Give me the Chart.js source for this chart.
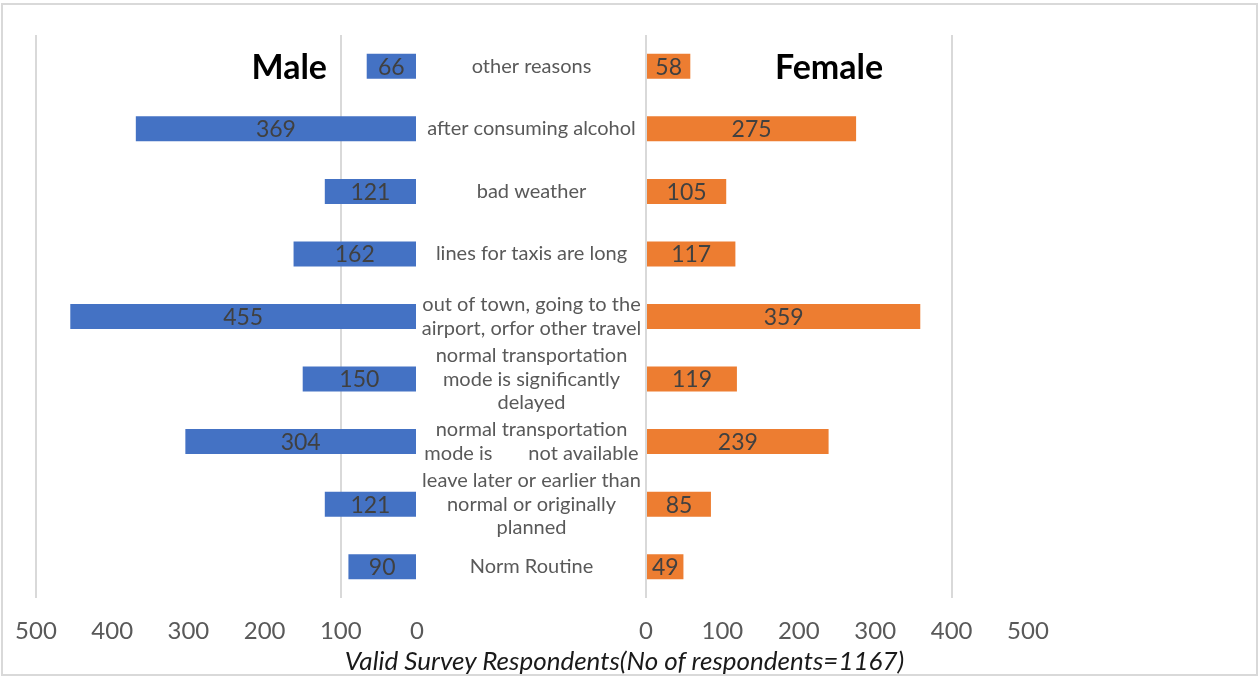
<!DOCTYPE html>
<html>
<head>
<meta charset="utf-8">
<script src="https://cdn.jsdelivr.net/npm/chart.js@4/dist/chart.umd.min.js"></script>
<style>
  html, body { margin: 0; padding: 0; background: #ffffff; }
  body { width: 1259px; height: 677px; position: relative; overflow: hidden; font-family: Lato, "Open Sans", sans-serif; }
  .frame { position: absolute; left: 1px; top: 3px; width: 1257px; height: 673px; box-sizing: border-box; border: 2px solid #d9d9d9; }
  .wrap { position: absolute; top: 0; height: 677px; }
  .wrap canvas { display: block; }
  #leftWrap { left: 0; width: 646px; }
  #rightWrap { left: 600px; width: 659px; }
  .side { position: absolute; font-weight: 700; font-size: 34px; color: #000; line-height: 1; }
  #male { right: calc(1259px - 327px); top: 49px; }
  #female { left: 775px; top: 49px; }
  #axisTitle { position: absolute; left: 0; width: 1249px; top: 645px; text-align: center; font-style: italic; font-size: 26px; color: #1a1a1a; line-height: 1.2; }
</style>
</head>
<body>
<div class="frame"></div>
<div class="wrap" id="leftWrap"><canvas id="maleChart" width="646" height="677"></canvas></div>
<div class="wrap" id="rightWrap"><canvas id="femaleChart" width="659" height="677"></canvas></div>
<div class="side" id="male">Male</div>
<div class="side" id="female">Female</div>
<div id="axisTitle">Valid Survey Respondents(No of respondents=1167)</div>
<script>
// Reasons for taking a taxi, by gender
const categories = [
  'other reasons',
  'after consuming alcohol',
  'bad weather',
  'lines for taxis are long',
  ['out of town, going to the', 'airport, orfor other travel'],
  ['normal transportation', 'mode is significantly', 'delayed'],
  ['normal transportation', 'mode is       not available'],
  ['leave later or earlier than', 'normal or originally', 'planned'],
  'Norm Routine'
];
const maleValues = [66, 369, 121, 162, 455, 150, 304, 121, 90];
const femaleValues = [58, 275, 105, 117, 359, 119, 239, 85, 49];
const tickValues = [0, 100, 200, 300, 400, 500];
const maleGridAt = [100, 500];
const femaleGridAt = [0, 400];

const FONT = 'Lato, "Open Sans", sans-serif';
const BLUE = '#4472C4';
const ORANGE = '#ED7D31';
const GRID = '#d9d9d9';
const TEXT = '#595959';

// value written in the middle of each bar
const barValueLabels = {
  id: 'barValueLabels',
  afterDatasetsDraw(chart) {
    const ctx = chart.ctx;
    const ds = chart.data.datasets[0];
    ctx.save();
    ctx.font = '23px ' + FONT;
    ctx.fillStyle = '#404040';
    ctx.textAlign = 'center';
    ctx.textBaseline = 'middle';
    chart.getDatasetMeta(0).data.forEach((bar, i) => {
      const p = bar.getProps(['x', 'base', 'y'], true);
      ctx.fillText(String(ds.data[i]), (p.x + p.base) / 2, p.y + 1);
    });
    ctx.restore();
  }
};

// category names centred in the gap between the two halves
const centerCategoryLabels = {
  id: 'centerCategoryLabels',
  afterDraw(chart) {
    const ctx = chart.ctx;
    const yScale = chart.scales.y;
    const cx = (chart.chartArea.right + chart.width) / 2;
    const lh = 23.5;
    ctx.save();
    ctx.font = '20px ' + FONT;
    ctx.fillStyle = TEXT;
    ctx.textAlign = 'center';
    ctx.textBaseline = 'middle';
    chart.data.labels.forEach((lab, i) => {
      const lines = Array.isArray(lab) ? lab : [lab];
      const cy = yScale.getPixelForValue(i);
      const y0 = cy - (lines.length - 1) * lh / 2;
      lines.forEach((ln, k) => ctx.fillText(ln, cx, y0 + k * lh));
    });
    ctx.restore();
  }
};

function buildOptions(reverse, gridAt, padding) {
  return {
    indexAxis: 'y',
    responsive: false,
    animation: false,
    layout: { padding: padding },
    plugins: { legend: { display: false }, tooltip: { enabled: false } },
    scales: {
      x: {
        type: 'linear',
        min: 0,
        max: 500,
        reverse: reverse,
        afterBuildTicks(scale) { scale.ticks = tickValues.map(v => ({ value: v })); },
        afterFit(scale) { scale.height = 54; scale.paddingLeft = 0; scale.paddingRight = 0; },
        grid: {
          drawTicks: false,
          lineWidth: 2,
          color: c => (c.tick && gridAt.includes(c.tick.value)) ? GRID : 'rgba(0,0,0,0)'
        },
        border: { display: false },
        ticks: {
          padding: 19,
          color: TEXT,
          font: { family: FONT, size: 24 },
          maxRotation: 0,
          autoSkip: false
        }
      },
      y: {
        type: 'category',
        display: false,
        offset: true
      }
    }
  };
}

new Chart(document.getElementById('maleChart'), {
  type: 'bar',
  data: {
    labels: categories,
    datasets: [{
      label: 'Male',
      data: maleValues,
      backgroundColor: BLUE,
      borderWidth: 0,
      categoryPercentage: 1,
      barPercentage: 0.4
    }]
  },
  options: buildOptions(true, maleGridAt, { left: 36, right: 229, top: 35, bottom: 25 }),
  plugins: [barValueLabels, centerCategoryLabels]
});

new Chart(document.getElementById('femaleChart'), {
  type: 'bar',
  data: {
    labels: categories,
    datasets: [{
      label: 'Female',
      data: femaleValues,
      backgroundColor: ORANGE,
      borderWidth: 0,
      categoryPercentage: 1,
      barPercentage: 0.4
    }]
  },
  options: buildOptions(false, femaleGridAt, { left: 46, right: 231, top: 35, bottom: 25 }),
  plugins: [barValueLabels]
});
</script>
</body>
</html>
